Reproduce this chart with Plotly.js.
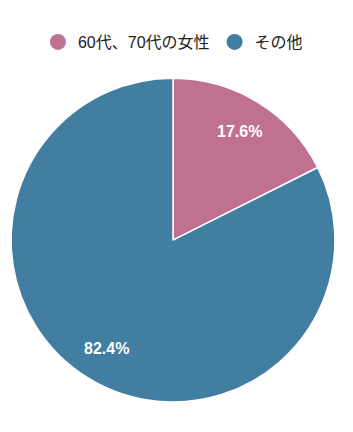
<!DOCTYPE html>
<html><head><meta charset="utf-8">
<script src="https://cdn.plot.ly/plotly-3.0.1.min.js"></script>
<style>html,body{margin:0;padding:0;background:#fff}#c{width:353px;height:432px}</style>
</head><body><div id="c"></div>
<script>
const labels = ["60代、70代の女性", "その他"];
const values = [17.6, 82.4];
const colors = ["#c07090", "#417ea2"];

const W = 353, H = 432;
const dom = {x: [0.0312, 0.949], y: [0.0694, 0.819]};
const cx = (dom.x[0] + dom.x[1]) / 2, cy = (dom.y[0] + dom.y[1]) / 2;
const rPx = Math.min((dom.x[1] - dom.x[0]) * W, (dom.y[1] - dom.y[0]) * H) / 2;

const data = [{
  type: "pie",
  labels: labels,
  values: values,
  sort: false,
  direction: "clockwise",
  rotation: 0,
  marker: {colors: colors, line: {color: "#ffffff", width: 1.5}},
  textinfo: "none",
  hoverinfo: "none",
  showlegend: false,
  domain: dom
}];
labels.forEach((l, i) => {
  data.push({type: "scatter", mode: "markers", x: [null], y: [null], name: l,
    marker: {symbol: "circle", size: 16, color: colors[i]}, showlegend: true, hoverinfo: "none"});
});

const total = values.reduce((a, b) => a + b, 0);
let cum = 0;
const annotations = values.map(v => {
  const mid = (cum + v / 2) / total * 2 * Math.PI;
  cum += v;
  const d = 0.785 * rPx;
  return {
    xref: "paper", yref: "paper", showarrow: false,
    x: cx + Math.sin(mid) * d / W, y: cy + Math.cos(mid) * d / H,
    xanchor: "center", yanchor: "middle",
    text: "<b>" + (v / total * 100).toFixed(1) + "%</b>",
    font: {family: "Liberation Sans, Arial, sans-serif", size: 16, color: "#ffffff"}
  };
});

const layout = {
  width: W, height: H,
  margin: {l: 0, r: 0, t: 0, b: 0},
  paper_bgcolor: "#ffffff", plot_bgcolor: "#ffffff",
  xaxis: {visible: false}, yaxis: {visible: false},
  showlegend: true,
  annotations: annotations,
  legend: {orientation: "h", x: 0.49, xanchor: "center", y: 1 - 42 / 432, yanchor: "middle",
    font: {family: "Liberation Sans, Noto Sans CJK JP, sans-serif", size: 16, color: "#222222"},
    itemwidth: 20, tracegroupgap: 0}
};
Plotly.newPlot("c", data, layout, {displayModeBar: false, staticPlot: true});
</script></body></html>
